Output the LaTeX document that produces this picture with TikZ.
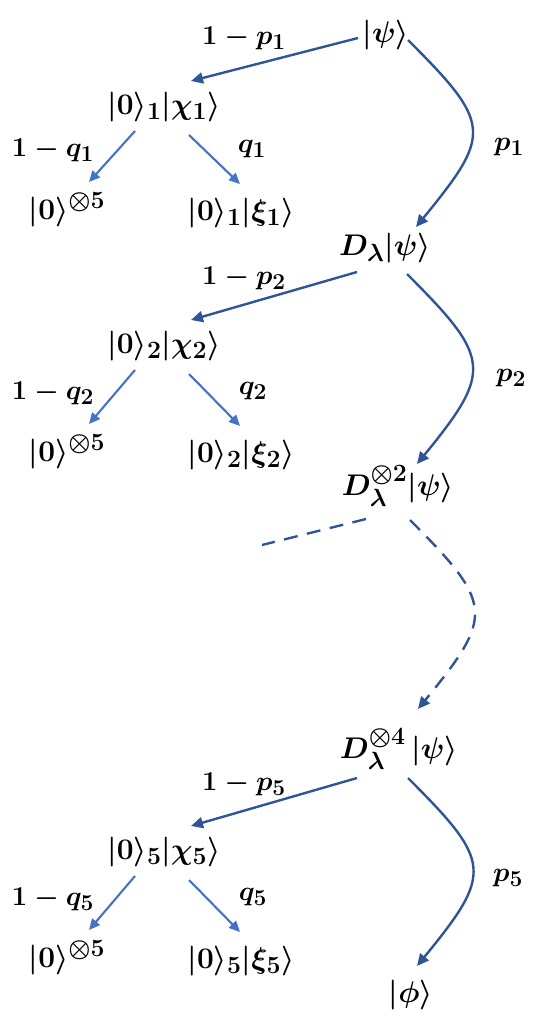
\documentclass[tikz,border=0pt]{standalone}
\usepackage{amsmath}
\usepackage{graphicx}
\usetikzlibrary{arrows.meta}
\definecolor{mainblue}{RGB}{47,85,151}
\definecolor{subblue}{RGB}{68,114,196}
\newcommand{\kt}[1]{\scalebox{1.2}{$#1$}}
\newcommand{\lbt}[1]{\scalebox{1.1}{$#1$}}
\begin{document}
\begin{tikzpicture}[x=1pt,y=-1pt,
  st/.style={inner sep=0pt,anchor=base,font=\fontsize{24.88}{30}\selectfont\boldmath},
  lb/.style={inner sep=0pt,anchor=center,font=\fontsize{24.88}{30}\selectfont\boldmath},
  mainarr/.style={draw=mainblue,line width=2.4pt,-{Triangle[length=12pt,width=11pt]}},
  subarr/.style={draw=subblue,line width=2.1pt,-{Triangle[length=11pt,width=10pt]}},
  dsh/.style={dash pattern=on 14pt off 9.5pt}
]
\useasboundingbox (0,0) rectangle (540,1017);

% ---------- states ----------
\node[st] (psi0) at (386,42) {\kt{\lvert\psi\rangle}};
\node[st] (d1) at (385,255) {\kt{D_\lambda\lvert\psi\rangle}};
\node[st] (d2) at (398,495) {\kt{D_\lambda^{\otimes 2}\lvert\psi\rangle}};
\node[st] (d4) at (399,758) {\kt{D_\lambda^{\otimes 4}\,\lvert\psi\rangle}};
\node[st] (phi) at (411,1002) {\kt{\lvert\phi\rangle}};

\node[st] (a1) at (164,114) {\kt{\lvert 0\rangle_1\lvert\chi_1\rangle}};
\node[st] (z1) at (67,219) {\kt{\lvert 0\rangle^{\otimes 5}}};
\node[st] (x1) at (241,220) {\kt{\lvert 0\rangle_1\lvert\xi_1\rangle}};

\node[st] (a2) at (164,353) {\kt{\lvert 0\rangle_2\lvert\chi_2\rangle}};
\node[st] (z2) at (67,461) {\kt{\lvert 0\rangle^{\otimes 5}}};
\node[st] (x2) at (241,462) {\kt{\lvert 0\rangle_2\lvert\xi_2\rangle}};

\node[st] (a5) at (164,859) {\kt{\lvert 0\rangle_5\lvert\chi_5\rangle}};
\node[st] (z5) at (67,967) {\kt{\lvert 0\rangle^{\otimes 5}}};
\node[st] (x5) at (241,968) {\kt{\lvert 0\rangle_5\lvert\xi_5\rangle}};

% ---------- labels ----------
\node[lb] (lp1) at (244,38) {\lbt{1-p_1}};
\node[lb] (lq1) at (53,150) {\lbt{1-q_1}};
\node[lb] (q1) at (252,149) {\lbt{q_1}};
\node[lb] (p1) at (509,147) {\lbt{p_1}};

\node[lb] (lp2) at (244,278) {\lbt{1-p_2}};
\node[lb] (lq2) at (53,393) {\lbt{1-q_2}};
\node[lb] (q2) at (253,391) {\lbt{q_2}};
\node[lb] (p2) at (511,378) {\lbt{p_2}};

\node[lb] (lp5) at (244,784) {\lbt{1-p_5}};
\node[lb] (lq5) at (53,899) {\lbt{1-q_5}};
\node[lb] (q5) at (253,897) {\lbt{q_5}};
\node[lb] (p5) at (508,878) {\lbt{p_5}};

% ---------- block 1 ----------
\draw[mainarr] ([shift={(-28,-4)}]psi0.base) -- ([shift={(27,-33)}]a1.base);
\draw[mainarr] ([shift={(22,-2)}]psi0.base) .. controls +(84,84) and +(76,-93) .. ([shift={(31,-28)}]d1.base);
\draw[subarr] ([shift={(-29,17)}]a1.base) -- ([shift={(22,-37)}]z1.base);
\draw[subarr] ([shift={(25,21)}]a1.base) -- ([shift={(-1,-36)}]x1.base);

% ---------- block 2 ----------
\draw[mainarr] ([shift={(-28,17)}]d1.base) -- ([shift={(27,-33)}]a2.base);
\draw[mainarr] ([shift={(22,19)}]d1.base) .. controls +(84,84) and +(76,-93) .. ([shift={(19,-31)}]d2.base);
\draw[subarr] ([shift={(-29,17)}]a2.base) -- ([shift={(22,-37)}]z2.base);
\draw[subarr] ([shift={(25,21)}]a2.base) -- ([shift={(-1,-36)}]x2.base);

% ---------- dashed gap ----------
\coordinate (gapend) at (262,545);
\draw[draw=mainblue,line width=2.4pt,dsh] ([shift={(-32,24)}]d2.base) -- (gapend);
\draw[mainarr,dsh] ([shift={(12,25)}]d2.base) .. controls +(84,84) and +(76,-93) .. ([shift={(19,-49)}]d4.base);

% ---------- block 5 ----------
\draw[mainarr] ([shift={(-42,20)}]d4.base) -- ([shift={(27,-33)}]a5.base);
\draw[mainarr] ([shift={(9,20)}]d4.base) .. controls +(84,84) and +(76,-93) .. ([shift={(6,-36)}]phi.base);
\draw[subarr] ([shift={(-29,17)}]a5.base) -- ([shift={(22,-37)}]z5.base);
\draw[subarr] ([shift={(25,21)}]a5.base) -- ([shift={(-1,-36)}]x5.base);
\end{tikzpicture}
\end{document}
